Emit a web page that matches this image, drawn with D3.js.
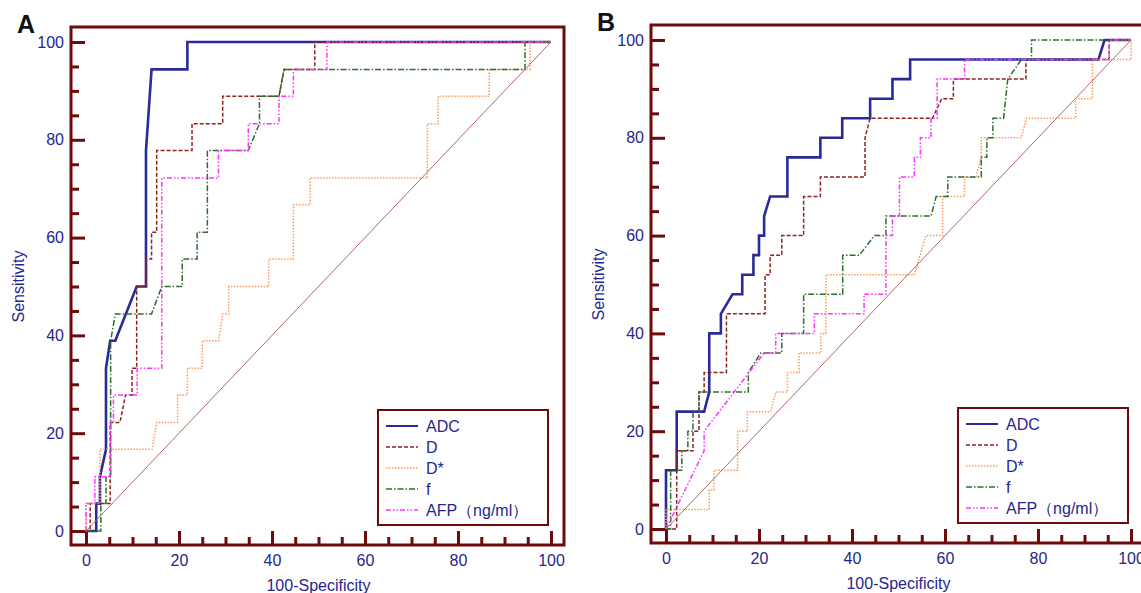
<!DOCTYPE html>
<html>
<head>
<meta charset="utf-8">
<script src="https://cdn.jsdelivr.net/npm/d3@7/dist/d3.min.js"></script>
<style>
  body { margin: 0; background: #fff; }
  svg { display: block; font-family: Arial, "Liberation Sans", sans-serif; }
</style>
</head>
<body>
<svg width="1141" height="593"></svg>
<script>
// ROC curves, [100-Specificity, Sensitivity]
var seriesNames = ["ADC", "D", "D*", "f", "AFP\uFF08ng/ml\uFF09"];
var xTicks = [0, 20, 40, 60, 80, 100];
var yTicks = [0, 20, 40, 60, 80, 100];
var minorTicks = [5, 10, 15, 25, 30, 35, 45, 50, 55, 65, 70, 75, 85, 90, 95];
var diagonal = [[0, 0], [100, 100]];

// panel A
var aADC = [[0,0],[2.2,0],[2.2,5.6],[3,5.6],[3,11.1],[4.3,16.7],[4.3,33.3],[5.2,38.9],[6.3,38.9],[10.9,50],[12.9,50],[12.9,77.8],[14.1,94.4],[21.8,94.4],[21.8,100],[100,100]];
var aD = [[0,0],[0.9,0],[0.9,5.6],[5.2,5.6],[5.2,22.2],[7.3,22.2],[8.5,27.8],[9.9,27.8],[9.9,33.3],[10.9,33.3],[10.9,50],[13,50],[13,55.6],[14.1,55.6],[14.1,61.1],[15.2,61.1],[15.2,77.8],[22.8,77.8],[22.8,83.3],[29.4,83.3],[29.4,88.9],[41.5,88.9],[42.6,94.4],[49.2,94.4],[49.2,100],[100,100]];
var aDstar = [[0,0],[0,5.6],[3,5.6],[3,16.7],[14.2,16.7],[15.2,22.2],[19.7,22.2],[19.7,27.8],[21.8,27.8],[21.8,33.3],[25,33.3],[25,38.9],[28.5,38.9],[29.4,44.4],[30.7,44.4],[30.7,50],[39.3,50],[39.3,55.6],[44.6,55.6],[44.6,66.7],[48.2,66.7],[48.2,72.2],[73.4,72.2],[73.4,83.3],[75.7,83.3],[75.7,88.9],[86.7,88.9],[86.7,94.4],[95.5,94.4],[95.5,100],[100,100]];
var aF = [[0,0],[3.2,0],[3.2,5.6],[4.3,5.6],[4.3,11.1],[5.3,11.1],[5.3,38.9],[6.3,44.4],[14.1,44.4],[16.3,50],[20.7,50],[20.7,55.6],[23.9,55.6],[23.9,61.1],[26.1,61.1],[26.1,77.8],[34.9,77.8],[37.3,83.3],[37.3,88.9],[41.5,88.9],[42.6,94.4],[94.4,94.4],[94.4,100],[100,100]];
var aAFP = [[0,0],[0,5.6],[1.9,5.6],[1.9,11.1],[5.3,11.1],[5.3,22.2],[5.9,22.2],[5.9,27.8],[11,27.8],[11,33.3],[16.3,33.3],[16.3,72.2],[28.5,72.2],[28.5,77.8],[34.9,77.8],[34.9,83.3],[41.5,83.3],[41.5,88.9],[44.6,88.9],[44.6,94.4],[51.8,94.4],[51.8,100],[100,100]];

// panel B
var bADC = [[0,0],[0,12],[2.3,12],[2.3,24],[8.2,24],[9.3,28],[9.3,40],[11.8,40],[11.8,44],[14.3,48],[16.4,48],[16.4,52],[18.8,52],[18.8,56],[20,56],[20,60],[21.1,60],[21.1,64],[22.4,68],[26.1,68],[26.1,76],[33.2,76],[33.2,80],[37.9,80],[37.9,84],[43.9,84],[43.9,88],[48.7,88],[48.7,92],[52.5,92],[52.5,96],[93,96],[94.3,100],[100,100]];
var bD = [[0,0],[2.3,0],[2.3,16],[5.8,16],[5.8,20],[7.1,20],[7.1,28],[8.2,28],[8.2,32],[13,32],[13,44],[21.3,44],[21.3,52],[22.4,52],[22.4,56],[24.9,56],[24.9,60],[29.6,60],[29.6,68],[33.2,68],[33.2,72],[42.8,72],[42.8,80],[43.9,84],[57.3,84],[59.3,88],[61.8,88],[61.8,92],[77.4,92],[77.4,96],[95.3,96],[95.3,100],[100,100]];
var bDstar = [[0,0],[0,4],[9.3,4],[9.3,8],[10.3,8],[10.3,12],[15.4,12],[15.4,20],[17.5,20],[17.5,24],[22.5,24],[23.6,28],[26.1,28],[26.1,32],[28.6,32],[28.6,36],[33.3,36],[33.3,40],[34.4,40],[34.4,52],[53.4,52],[55.9,60],[59.5,60],[59.5,68],[64.2,68],[64.2,72],[66.7,72],[67.8,76],[67.8,80],[76.4,80],[77.5,84],[88.1,84],[88.1,88],[91.7,88],[91.7,96],[100,96],[100,100]];
var bF = [[0,0],[1,0],[1,12],[3.4,12],[3.4,16],[4.7,16],[4.7,20],[5.8,20],[5.8,24],[7.1,24],[7.1,28],[17.7,28],[17.7,32],[20.4,36],[24.9,36],[24.9,40],[29.6,40],[29.6,48],[38,48],[38,56],[41.6,56],[44.8,60],[47.3,60],[47.3,64],[57,64],[58.1,68],[60.6,68],[60.6,72],[67.8,72],[67.8,76],[69,76],[69,80],[70.3,80],[70.3,84],[72.6,84],[73.5,92],[76.4,96],[78.6,96],[78.6,100],[100,100]];
var bAFP = [[0,0],[8.2,16],[8.2,20],[21.1,36],[23.6,36],[23.6,40],[31.9,40],[31.9,44],[42.6,44],[42.6,48],[47.3,48],[47.3,60],[48.7,60],[48.7,64],[50.2,64],[50.2,72],[53.4,72],[53.4,76],[54.7,76],[54.7,80],[57,80],[57,84],[58.3,84],[58.3,92],[64.2,92],[64.2,96],[95.3,96],[95.3,100],[100,100]];

var styles = [
  {color: "#2a2a9a", width: 2.6, dash: null},
  {color: "#8e2323", width: 1.5, dash: "4,2"},
  {color: "#ff9a5c", width: 1.5, dash: "1.5,1.5"},
  {color: "#2f6e2f", width: 1.5, dash: "6,2,1.5,2"},
  {color: "#ff33ff", width: 1.5, dash: "5,2,1.5,2,1.5,2"}
];
var frameColor = "#6d0a0a";
var textColor = "#26268c";

var svg = d3.select("svg");

function drawPanel(left, top, label, series) {
  var fw = 493, fh = 518;
  var g = svg.append("g").attr("transform", "translate(" + left + "," + top + ")");

  var x = d3.scaleLinear().domain([0, 100]).range([15, 480]);
  var y = d3.scaleLinear().domain([0, 100]).range([504, 15]);

  // tick marks, pointing inside the frame
  function tickAxis(axis, vals, size, tr) {
    g.append("g").attr("transform", tr)
      .call(axis.tickValues(vals).tickSize(size).tickFormat(""))
      .call(function(s) {
        s.select(".domain").remove();
        s.selectAll("line").attr("stroke", frameColor).attr("stroke-width", 3);
      });
  }
  tickAxis(d3.axisTop(x), xTicks, 14, "translate(0," + fh + ")");
  tickAxis(d3.axisTop(x), minorTicks, 8, "translate(0," + fh + ")");
  tickAxis(d3.axisRight(y), yTicks, 14, "translate(0,0)");
  tickAxis(d3.axisRight(y), minorTicks, 8, "translate(0,0)");

  // tick labels
  g.append("g").attr("transform", "translate(0," + fh + ")")
    .call(d3.axisBottom(x).tickValues(xTicks).tickSize(0).tickPadding(10))
    .call(function(s) {
      s.select(".domain").remove();
      s.selectAll("text").attr("fill", textColor).style("font-size", "16px").style("font-family", "Arial, 'Liberation Sans', sans-serif");
    });
  g.append("g")
    .call(d3.axisLeft(y).tickValues(yTicks).tickSize(0).tickPadding(7))
    .call(function(s) {
      s.select(".domain").remove();
      s.selectAll("text").attr("fill", textColor).style("font-size", "16px").style("font-family", "Arial, 'Liberation Sans', sans-serif");
    });

  g.append("rect")
    .attr("x", 0).attr("y", 0).attr("width", fw).attr("height", fh)
    .attr("fill", "none").attr("stroke", frameColor).attr("stroke-width", 3);

  var line = d3.line().x(function(d) { return x(d[0]); }).y(function(d) { return y(d[1]); });

  series.forEach(function(s, i) {
    g.append("path").datum(s)
      .attr("d", line)
      .attr("fill", "none")
      .attr("stroke", styles[i].color)
      .attr("stroke-width", styles[i].width)
      .attr("stroke-dasharray", styles[i].dash)
      .attr("stroke-linejoin", "miter");
  });

  g.append("path").datum(diagonal)
    .attr("d", line)
    .attr("fill", "none")
    .attr("stroke", "#b06868")
    .attr("stroke-width", 1);

  // axis titles
  g.append("text")
    .attr("transform", "translate(" + (left === 71 ? -47 : -47) + "," + (y(50)) + ") rotate(-90)")
    .attr("text-anchor", "middle")
    .attr("fill", textColor)
    .style("font-size", "16px")
    .text("Sensitivity");
  g.append("text")
    .attr("x", x(50)).attr("y", fh + 46)
    .attr("text-anchor", "middle")
    .attr("fill", textColor)
    .style("font-size", "16px")
    .text("100-Specificity");

  // panel letter
  g.append("text")
    .attr("x", -54).attr("y", 6)
    .style("font-size", "25px").style("font-weight", "bold")
    .attr("fill", "#111")
    .text(label);

  // legend
  var lg = g.append("g").attr("transform", "translate(307,383)");
  lg.append("rect")
    .attr("width", 170).attr("height", 115)
    .attr("fill", "#fff").attr("stroke", frameColor).attr("stroke-width", 2);
  seriesNames.forEach(function(name, i) {
    var yy = 16 + i * 21;
    lg.append("line")
      .attr("x1", 8).attr("x2", 40).attr("y1", yy).attr("y2", yy)
      .attr("stroke", styles[i].color)
      .attr("stroke-width", i === 0 ? 2 : 1.3)
      .attr("stroke-dasharray", styles[i].dash);
    lg.append("text")
      .attr("x", 48).attr("y", yy).attr("dy", "0.36em")
      .attr("fill", textColor)
      .style("font-size", "16px")
      .text(name);
  });
}

drawPanel(71, 27, "A", [aADC, aD, aDstar, aF, aAFP]);
drawPanel(651, 25, "B", [bADC, bD, bDstar, bF, bAFP]);
</script>
</body>
</html>
